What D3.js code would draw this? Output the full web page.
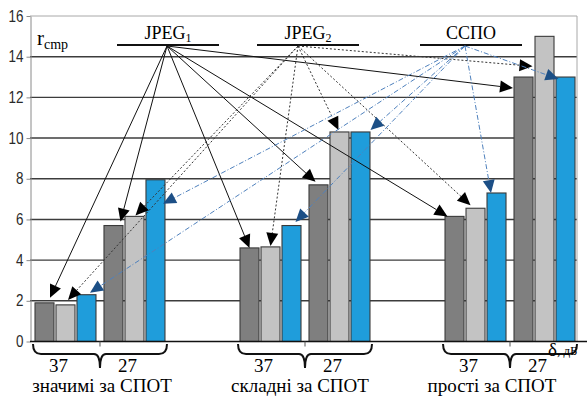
<!DOCTYPE html>
<html>
<head>
<meta charset="utf-8">
<script src="https://cdn.jsdelivr.net/npm/d3@7"></script>
<style>
  body { margin: 0; background: #fff; }
  svg { display: block; }
</style>
</head>
<body>
<div id="chart"></div>
<script>
// categories
const groups = ["значимі за СПОТ", "складні за СПОТ", "прості за СПОТ"]
const thresholds = ["37", "27"]
const series = ["JPEG1", "JPEG2", "ССПО"]

// r_cmp values, order: group x threshold (37, 27)
const jpeg1 = [1.9, 5.7, 4.6, 7.7, 6.15, 13.0]
const jpeg2 = [1.8, 6.15, 4.65, 10.3, 6.55, 15.0]
const sspo = [2.3, 7.95, 5.7, 10.3, 7.3, 13.0]

const yTicks = [0, 2, 4, 6, 8, 10, 12, 14, 16]

document.addEventListener("DOMContentLoaded", (e) => {
    var width = 587,
        height = 396

    var left = 30, right = 577, top = 16, bottom = 341.5
    var serif = "'Liberation Serif', 'Times New Roman', serif"

    var svg = d3.select('#chart')
        .append('svg')
        .attr("width", width)
        .attr("height", height)

    var y = d3.scaleLinear().domain([0, 16]).range([bottom, top])

    var x0 = d3.scaleBand().domain(groups).range([35, 575]).paddingInner(0.366)
    var x1 = d3.scaleBand().domain(thresholds).range([0, x0.bandwidth()]).paddingInner(0.116)
    var x2 = d3.scaleBand().domain(series).range([0, x1.bandwidth()]).paddingInner(0.095)

    var colors = {"JPEG1": "#7f7f7f", "JPEG2": "#c3c3c3", "ССПО": "#1f9ddb"}
    var values = {"JPEG1": jpeg1, "JPEG2": jpeg2, "ССПО": sspo}

    let bars = []
    groups.forEach(function(g, gi) {
        thresholds.forEach(function(t, ti) {
            series.forEach(function(s) {
                bars.push({group: g, thr: t, series: s, value: values[s][gi * thresholds.length + ti]})
            })
        })
    })

    // grid lines
    svg.selectAll(".grid")
        .data(yTicks.filter(function(d) { return d > 0 }))
        .enter().append("line")
        .attr("class", "grid")
        .attr("x1", left).attr("x2", right)
        .attr("y1", function(d) { return y(d) }).attr("y2", function(d) { return y(d) })
        .attr("stroke", function(d) { return d == 16 ? "#a8a8a8" : "#3c3c3c" })
        .attr("stroke-width", function(d) { return d == 16 ? 1 : 1.4 })

    // right frame
    svg.append("line")
        .attr("x1", right).attr("x2", right)
        .attr("y1", top).attr("y2", bottom)
        .attr("stroke", "#a8a8a8")

    // y axis
    let yAxis = svg.append("g")
        .attr("transform", "translate(" + (left + 0.5) + ",0)")
        .call(d3.axisLeft(y).tickValues(yTicks).tickSize(4).tickSizeOuter(0))
    yAxis.select(".domain").attr("stroke", "#8a8a8a")
    yAxis.selectAll(".tick line").attr("stroke", "#8a8a8a")
    // narrow sans look: squeeze Liberation Sans horizontally
    yAxis.selectAll(".tick text")
        .attr("x", 0)
        .attr("transform", "translate(-7,0) scale(0.84,1)")
        .attr("fill", "#2a2a2a")
        .attr("font-family", "'Liberation Sans', Arial, sans-serif")
        .attr("font-size", 16)

    // bars
    svg.selectAll(".bar")
        .data(bars)
        .enter().append("rect")
        .attr("class", "bar")
        .attr("x", function(d) { return x0(d.group) + x1(d.thr) + x2(d.series) })
        .attr("width", x2.bandwidth())
        .attr("y", function(d) { return y(d.value) })
        .attr("height", function(d) { return y(0) - y(d.value) })
        .attr("fill", function(d) { return colors[d.series] })
        .attr("stroke", "#3a3a3a")
        .attr("stroke-width", 1.1)

    // x baseline
    svg.append("line")
        .attr("x1", left).attr("x2", width)
        .attr("y1", y(0)).attr("y2", y(0))
        .attr("stroke", "#111")
        .attr("stroke-width", 1.4)

    // braces under every group
    let groupLabelShift = [2, -5, -18]
    groups.forEach(function(g, gi) {
        let a = x0(g) - 2, b = x0(g) + x0.bandwidth() + 2, c = (a + b) / 2
        let y0 = 344, y1 = 354, y2 = 368
        let p = d3.path()
        p.moveTo(a, y0)
        p.quadraticCurveTo(a, y1, a + 8, y1)
        p.lineTo(c - 6, y1)
        p.quadraticCurveTo(c, y1, c, y2)
        p.quadraticCurveTo(c, y1, c + 6, y1)
        p.lineTo(b - 8, y1)
        p.quadraticCurveTo(b, y1, b, y0)
        svg.append("path")
            .attr("d", p.toString())
            .attr("fill", "none")
            .attr("stroke", "#111")
            .attr("stroke-width", 2)
        svg.append("line")
            .attr("x1", c).attr("x2", c)
            .attr("y1", y(0)).attr("y2", y(0) + 5)
            .attr("stroke", "#555")

        thresholds.forEach(function(t) {
            svg.append("text")
                .attr("x", x0(g) + x1(t) + x1.bandwidth() / 2 - 7)
                .attr("y", 372)
                .attr("text-anchor", "middle")
                .attr("font-family", serif)
                .attr("font-size", 19)
                .text(t)
        })

        svg.append("text")
            .attr("x", c + groupLabelShift[gi])
            .attr("y", 392)
            .attr("text-anchor", "middle")
            .attr("font-family", serif)
            .attr("font-size", 19)
            .text(g)
    })

    // axis titles
    let rLabel = svg.append("text")
        .attr("x", 37).attr("y", 45)
        .attr("font-family", serif)
        .attr("font-size", 21)
    rLabel.append("tspan").text("r")
    rLabel.append("tspan").attr("font-size", 14).attr("dy", 4).text("cmp")

    let dLabel = svg.append("text")
        .attr("x", 548).attr("y", 356)
        .attr("font-family", serif)
        .attr("font-size", 19)
    dLabel.append("tspan").text("δ")
    dLabel.append("tspan").attr("font-size", 13).attr("dy", -1).text(", дБ")

    // legend labels with underlines and arrows to bars
    let legendX = [168, 308, 471]
    let originX = [167, 298, 465]
    let legendY = 45
    let lineStyle = [
        {stroke: "#111", dash: null, width: 1, head: "#000"},
        {stroke: "#333", dash: "2,2", width: 1, head: "#000"},
        {stroke: "#4f81bd", dash: "5,2,1,2", width: 1, head: "#1c4f86"}
    ]
    // arrow tip offsets from each bar's top centre
    let arrowNudge = [
        [[5.5, -5], [7, -4], [0, 0], [-3, -3], [-7, 0], [-10.5, 11]],
        [[2.5, -5], [1, -1], [0, -1], [-1, -2], [-5, -3], [-12, 30]],
        [[3.5, -2], [7.5, 24], [4, -3.6], [10, -2], [-5.5, 0], [-7, 2]]
    ]

    series.forEach(function(s, si) {
        let t = svg.append("text")
            .attr("x", legendX[si]).attr("y", 39)
            .attr("text-anchor", "middle")
            .attr("font-family", serif)
            .attr("font-size", 18)
        if (s.startsWith("JPEG")) {
            t.append("tspan").text("JPEG")
            t.append("tspan").attr("font-size", 12).attr("dy", 3).text(s.slice(4))
        } else {
            t.text(s)
        }
        svg.append("line")
            .attr("x1", legendX[si] - 51).attr("x2", legendX[si] + 51)
            .attr("y1", legendY).attr("y2", legendY)
            .attr("stroke", "#111").attr("stroke-width", 2)

        let st = lineStyle[si]
        let ox = originX[si], oy = legendY + 1
        bars.filter(function(d) { return d.series == s }).forEach(function(d, i) {
            let bx = x0(d.group) + x1(d.thr) + x2(d.series) + x2.bandwidth() / 2
            let tx = bx + arrowNudge[si][i][0]
            let ty = y(d.value) + arrowNudge[si][i][1]
            let ang = Math.atan2(ty - oy, tx - ox)
            let len = 13, half = 6
            let bxp = tx - len * Math.cos(ang), byp = ty - len * Math.sin(ang)
            svg.append("line")
                .attr("x1", ox).attr("y1", oy)
                .attr("x2", bxp).attr("y2", byp)
                .attr("stroke", st.stroke)
                .attr("stroke-width", st.width)
                .attr("stroke-dasharray", st.dash)
            let pts = [
                [tx, ty],
                [bxp + half * Math.sin(ang), byp - half * Math.cos(ang)],
                [bxp - half * Math.sin(ang), byp + half * Math.cos(ang)]
            ]
            svg.append("polygon")
                .attr("points", pts.map(function(p) { return p.join(",") }).join(" "))
                .attr("fill", st.head)
        })
    })
})
</script>
</body>
</html>
